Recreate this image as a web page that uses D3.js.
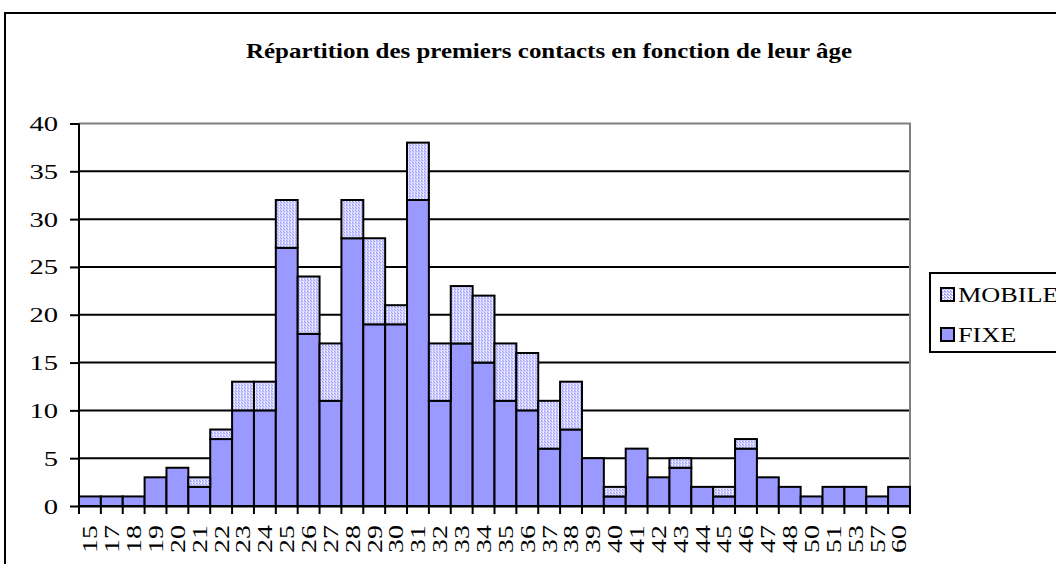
<!DOCTYPE html>
<html>
<head>
<meta charset="utf-8">
<script src="https://cdn.jsdelivr.net/npm/d3@7"></script>
<style>
  body { margin: 0; background: #fff; }
  svg { display: block; font-family: "Liberation Serif", "Times New Roman", serif; }
</style>
</head>
<body>
<div id="chart"></div>
<script>
// ages (categories) and counts per series
const ages = ["15","17","18","19","20","21","22","23","24","25","26","27","28","29","30","31","32","33","34","35","36","37","38","39","40","41","42","43","44","45","46","47","48","50","51","53","57","60"];
const fixe = [1,1,1,3,4,2,7,10,10,27,18,11,28,19,19,32,11,17,15,11,10,6,8,5,1,6,3,4,2,1,6,3,2,1,2,2,1,2];
const mobile = [0,0,0,0,0,1,1,3,3,5,6,6,4,9,2,6,6,6,7,6,6,5,5,0,1,0,0,1,0,1,1,0,0,0,0,0,0,0];
const yTicks = [0,5,10,15,20,25,30,35,40];
const seriesNames = ["FIXE", "MOBILE"];

const W = 1056, H = 564;
const margin = {top: 123.5, left: 79, right: 146, bottom: 58};
const width = W - margin.left - margin.right;
const height = H - margin.top - margin.bottom;
const FONT = "'Liberation Serif', 'Times New Roman', serif";

const svg = d3.select("#chart").append("svg")
    .attr("width", W)
    .attr("height", H);

// dotted fill for the MOBILE series
const pat = svg.append("defs").append("pattern")
    .attr("id", "dots")
    .attr("width", 3).attr("height", 3)
    .attr("patternUnits", "userSpaceOnUse");
pat.append("rect").attr("width", 3).attr("height", 3).attr("fill", "#ffffff");
pat.append("rect").attr("width", 2).attr("height", 1).attr("fill", "#9999ff");
pat.append("rect").attr("x", 1).attr("y", 1).attr("width", 2).attr("height", 1).attr("fill", "#b3b3ff");
pat.append("rect").attr("x", 0).attr("y", 2).attr("width", 1).attr("height", 1).attr("fill", "#9999ff");

// outer frame
svg.append("rect")
    .attr("x", 5).attr("y", 13)
    .attr("width", W + 10).attr("height", H + 10)
    .attr("fill", "none")
    .attr("stroke", "#000")
    .attr("stroke-width", 2);

svg.append("text")
    .attr("x", 246).attr("y", 58)
    .attr("font-weight", "bold")
    .attr("font-size", "21px")
    .attr("textLength", 606)
    .attr("lengthAdjust", "spacingAndGlyphs")
    .text("Répartition des premiers contacts en fonction de leur âge");

const g = svg.append("g")
    .attr("transform", "translate(" + margin.left + "," + margin.top + ")");

const x = d3.scaleBand().domain(ages).range([0, width]).padding(0);
const y = d3.scaleLinear().domain([0, 40]).range([height, 0]);

// gridlines
g.selectAll(".grid")
    .data(yTicks.filter(d => d > 0 && d < 40))
    .enter().append("line")
    .attr("class", "grid")
    .attr("x1", 0).attr("x2", width)
    .attr("y1", d => y(d)).attr("y2", d => y(d))
    .attr("stroke", "#000")
    .attr("stroke-width", 2);

// plot area top/right border (gray)
g.append("path")
    .attr("d", "M0," + y(40) + "H" + width + "V" + height)
    .attr("fill", "none")
    .attr("stroke", "#808080")
    .attr("stroke-width", 2);

const stackData = ages.map((a, i) => ({age: a, FIXE: fixe[i], MOBILE: mobile[i]}));
const stack = d3.stack().keys(seriesNames)(stackData);

// fixe bars
g.selectAll(".fixe")
    .data(stack[0])
    .enter().append("rect")
    .attr("class", "fixe")
    .attr("x", d => x(d.data.age))
    .attr("y", d => y(d[1]))
    .attr("width", x.bandwidth())
    .attr("height", d => y(d[0]) - y(d[1]))
    .attr("fill", "#9999ff")
    .attr("stroke", "#000")
    .attr("stroke-width", 2);

// mobile bars
g.selectAll(".mobile")
    .data(stack[1].filter(d => d[1] > d[0]))
    .enter().append("rect")
    .attr("class", "mobile")
    .attr("x", d => x(d.data.age))
    .attr("y", d => y(d[1]))
    .attr("width", x.bandwidth())
    .attr("height", d => y(d[0]) - y(d[1]))
    .attr("fill", "url(#dots)")
    .attr("stroke", "#000")
    .attr("stroke-width", 2);

// y axis
const yAxis = g.append("g")
    .call(d3.axisLeft(y).tickValues(yTicks).tickSize(9));
yAxis.select(".domain").attr("stroke-width", 2).attr("d", "M0," + height + "V" + y(40));
yAxis.selectAll(".tick line").attr("stroke-width", 2);
yAxis.selectAll("text")
    .attr("font-family", FONT)
    .attr("font-size", "22px")
    .attr("fill", "#000")
    .attr("x", -21 / 1.3)
    .attr("transform", "scale(1.3,1)");

// x axis
const xAxis = g.append("g")
    .attr("transform", "translate(0," + height + ")")
    .call(d3.axisBottom(x).tickSize(8).tickSizeOuter(0));
xAxis.select(".domain").attr("stroke-width", 2);
xAxis.selectAll(".tick line")
    .attr("stroke-width", 2)
    .attr("transform", "translate(" + (-x.bandwidth() / 2) + ",0)");
xAxis.append("line")
    .attr("x1", width).attr("x2", width)
    .attr("y1", 0).attr("y2", 8)
    .attr("stroke", "#000").attr("stroke-width", 2);
xAxis.selectAll(".tick text")
    .attr("font-family", FONT)
    .attr("font-size", "21px")
    .attr("fill", "#000")
    .attr("transform", "rotate(-90) scale(1.33,1)")
    .attr("text-anchor", "end")
    .attr("x", -19 / 1.33)
    .attr("y", 0)
    .attr("dy", "0.35em");

// legend
const legend = svg.append("g").attr("transform", "translate(930,273)");
legend.append("rect")
    .attr("width", 140).attr("height", 79)
    .attr("fill", "#fff")
    .attr("stroke", "#000")
    .attr("stroke-width", 2);

const legendItems = [
    {name: "MOBILE", fill: "url(#dots)"},
    {name: "FIXE", fill: "#9999ff"}
];
const li = legend.selectAll(".item")
    .data(legendItems)
    .enter().append("g")
    .attr("class", "item")
    .attr("transform", (d, i) => "translate(11," + (15 + i * 40) + ")");
li.append("rect")
    .attr("width", 13).attr("height", 13)
    .attr("fill", d => d.fill)
    .attr("stroke", "#000")
    .attr("stroke-width", 2);
li.append("text")
    .attr("x", 17 / 1.25).attr("y", 14)
    .attr("font-size", "21px")
    .attr("transform", "scale(1.25,1)")
    .text(d => d.name);
</script>
</body>
</html>
